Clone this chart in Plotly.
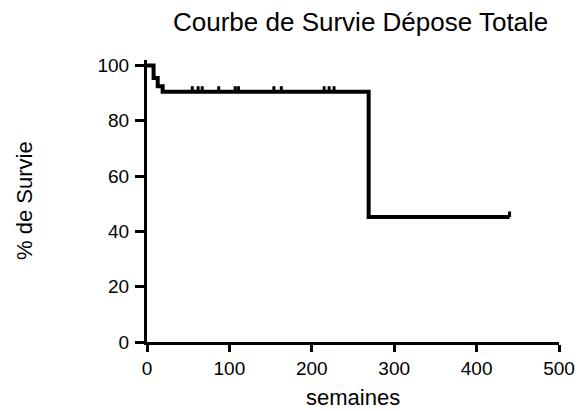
"""Courbe de survie (Kaplan-Meier) - depose totale."""

import plotly.graph_objects as go

# Etapes de la courbe (semaines, % de survie)
SEMAINES = [0, 8, 13, 19, 269, 440]
SURVIE = [100, 95.5, 92.5, 90.5, 45.2, 45.2]

# Patients censures
CENSURE_SEMAINES = [55, 62, 67, 87, 107, 111, 154, 163, 215, 221, 227, 440]
CENSURE_SURVIE = [90.5] * 11 + [45.2]

FONT = "Arial, Liberation Sans, sans-serif"

fig = go.Figure()
fig.add_trace(
    go.Scatter(
        x=SEMAINES,
        y=SURVIE,
        mode="lines",
        line=dict(color="black", width=4, shape="hv"),
        showlegend=False,
    )
)
# petites marques de censure au-dessus de la courbe
fig.add_trace(
    go.Scatter(
        x=CENSURE_SEMAINES,
        y=[v + 1.0 for v in CENSURE_SURVIE],
        mode="markers",
        marker=dict(symbol="line-ns", size=4, line=dict(color="black", width=3)),
        showlegend=False,
        cliponaxis=False,
    )
)

axis_style = dict(
    showgrid=False,
    zeroline=False,
    showline=True,
    linecolor="black",
    linewidth=3,
    ticks="outside",
    tickwidth=3,
    tickcolor="black",
    tickfont=dict(family=FONT, size=19, color="black"),
)

fig.update_layout(
    width=587,
    height=411,
    margin=dict(l=147, r=19, t=60, b=69),
    plot_bgcolor="white",
    paper_bgcolor="white",
    xaxis=dict(range=[0, 500], tickvals=[0, 100, 200, 300, 400, 500], ticklen=7, **axis_style),
    yaxis=dict(range=[0, 102], tickvals=[0, 20, 40, 60, 80, 100], ticklen=9,
               ticklabelstandoff=2, **axis_style),
    annotations=[
        dict(
            text="Courbe de Survie Dépose Totale",
            x=0.518, y=1, xref="paper", yref="paper", yanchor="middle", yshift=38,
            showarrow=False, font=dict(family=FONT, size=26, color="black"),
        ),
        dict(
            text="semaines",
            x=0.5, y=0, xref="paper", yref="paper", yanchor="middle", yshift=-55,
            showarrow=False, font=dict(family=FONT, size=22, color="black"),
        ),
        dict(
            text="% de Survie",
            x=0, y=0.5, xref="paper", yref="paper", textangle=-90,
            xanchor="center", xshift=-123,
            showarrow=False, font=dict(family=FONT, size=22, color="black"),
        ),
    ],
)

# pas de marge autour de la figure dans la page, pas de barre d'outils
fig.write_html(
    "out.html",
    config={"displayModeBar": False},
    post_script="document.body.style.margin = '0';",
)
